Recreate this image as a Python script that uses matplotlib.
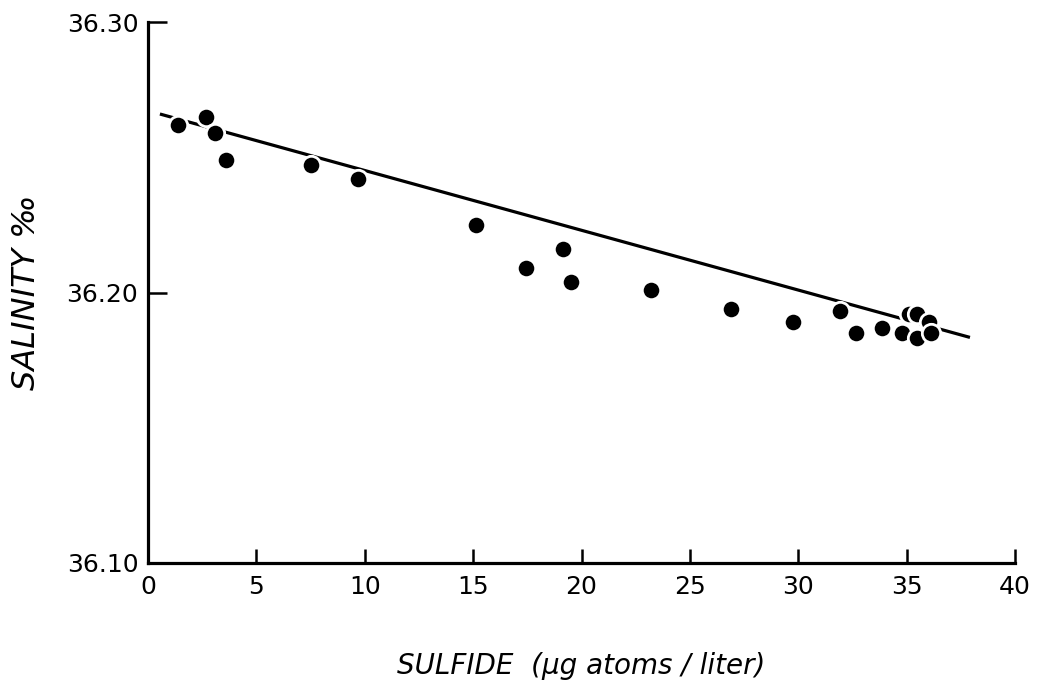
import matplotlib
matplotlib.use("Agg")
import matplotlib.pyplot as plt
import numpy as np

sulfide = [1.38, 2.68, 3.09, 3.60, 7.52, 9.69, 15.13, 17.44, 19.15, 19.52, 23.21,
           26.90, 29.76, 31.93, 32.66, 33.86, 34.79, 35.11, 35.48, 35.48, 36.03, 36.12]
salinity = [36.262, 36.265, 36.259, 36.249, 36.247, 36.242, 36.225, 36.209, 36.216,
            36.204, 36.201, 36.194, 36.189, 36.193, 36.185, 36.187, 36.185, 36.192,
            36.192, 36.183, 36.189, 36.185]
fit_x = [0.55, 37.92]
fit_y = [36.266, 36.1834]

xticks = [0, 5, 10, 15, 20, 25, 30, 35, 40]
yticks = [36.10, 36.20, 36.30]
ytick_labels = ["36.10", "36.20", "36.30"]

fig = plt.figure(figsize=(10.43, 6.89), dpi=100)
ax = fig.add_axes([0.1419, 0.1829, 0.9732 - 0.1419, 0.968 - 0.1829])

ax.plot(fit_x, fit_y, color="black", lw=2.3, solid_capstyle="butt", zorder=2)
ax.scatter(sulfide, salinity, s=175, color="black", edgecolors="white",
           linewidths=2.0, zorder=3)

ax.set_xlim(0, 40)
ax.set_ylim(36.10, 36.30)
ax.set_xticks(xticks)
ax.set_xticklabels([str(t) for t in xticks])
ax.set_yticks(yticks)
ax.set_yticklabels(ytick_labels)

for s in ["top", "right"]:
    ax.spines[s].set_visible(False)
for s in ["left", "bottom"]:
    ax.spines[s].set_linewidth(2.3)

ax.tick_params(axis="both", direction="in", length=10, width=1.8,
               labelsize=18, pad=9)
ax.tick_params(axis="y", length=14, pad=7)

ax.set_xlabel("SULFIDE  (μg atoms / liter)", fontsize=20, style="italic",
              labelpad=38)
ax.set_ylabel("SALINITY ‰", fontsize=23, style="italic")
ax.yaxis.set_label_coords(-0.122, 0.5)

fig.savefig("out.png", dpi=100)
